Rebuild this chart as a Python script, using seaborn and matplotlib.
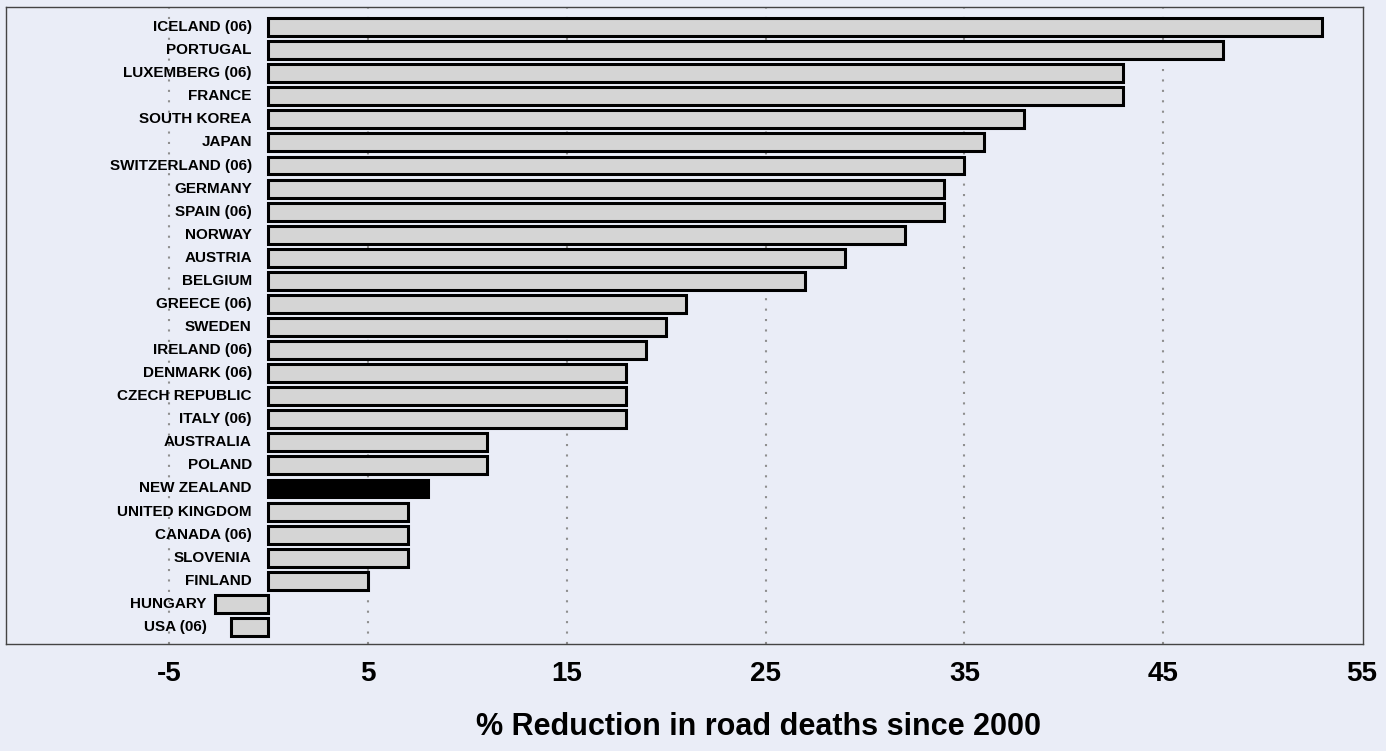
import numpy as np
import pandas as pd
import seaborn as sns
import matplotlib.pyplot as plt

# values
countries = ["ICELAND (06)", "PORTUGAL", "LUXEMBERG (06)", "FRANCE", "SOUTH KOREA",
             "JAPAN", "SWITZERLAND (06)", "GERMANY", "SPAIN (06)", "NORWAY",
             "AUSTRIA", "BELGIUM", "GREECE (06)", "SWEDEN", "IRELAND (06)",
             "DENMARK (06)", "CZECH REPUBLIC", "ITALY (06)", "AUSTRALIA", "POLAND",
             "NEW ZEALAND", "UNITED KINGDOM", "CANADA (06)", "SLOVENIA", "FINLAND",
             "HUNGARY", "USA (06)"]
reduction = [53, 48, 43, 43, 38, 36, 35, 34, 34, 32, 29, 27, 21, 20, 19,
             18, 18, 18, 11, 11, 8, 7, 7, 7, 5, -2.7, -1.9]
highlight = "NEW ZEALAND"
xticks = [-5, 5, 15, 25, 35, 45, 55]

bg = "#eaedf7"
sns.set_theme(style="white", rc={"axes.facecolor": bg, "figure.facecolor": bg,
                                 "text.color": "black"})
font = ["Liberation Sans", "DejaVu Sans"]
plt.rcParams["font.family"] = font

df = pd.DataFrame({"country": countries, "reduction": reduction})
colors = ["black" if c == highlight else "#d5d5d5" for c in countries]

fig = plt.figure(figsize=(13.86, 7.51), dpi=100)
ax = fig.add_axes([6 / 1386, 1 - 644 / 751, 1357 / 1386, 637 / 751])

sns.barplot(data=df, x="reduction", y="country", hue="country", palette=colors,
            legend=False, orient="h", width=0.78, edgecolor="black",
            linewidth=2.2, saturation=1, ax=ax)

ax.set_xlim(-13.2, 55.05)
ax.set_ylim(len(countries) - 0.26, -0.87)
ax.set_xticks(xticks[:-1])
ax.set_xticklabels([])
for t in xticks:
    ax.annotate(str(t), xy=(t, 0), xycoords=("data", "axes fraction"),
                xytext=(0, -12), textcoords="offset points", ha="center", va="top",
                fontsize=20, fontweight="bold", color="black")
ax.tick_params(length=0)
ax.set_yticks([])
ax.set_ylabel("")
ax.set_xlabel("")
ax.grid(axis="x", linestyle=(0, (1, 4)), color="#8f8f8f", linewidth=1.5)
ax.set_axisbelow(True)
for s in ax.spines.values():
    s.set_color("#444444")
    s.set_linewidth(1)

# country labels sit just left of each bar's start
low = min(reduction)
for i, (c, v) in enumerate(zip(countries, reduction)):
    x0, off = (0, -12) if v >= 0 else (low, -6)
    ax.annotate(c, xy=(x0, i), xytext=(off, 0), textcoords="offset points",
                ha="right", va="center", fontsize=11, fontweight="bold", color="black")

fig.text(758 / 1386, 1 - 727 / 751, "% Reduction in road deaths since 2000",
         ha="center", va="center", fontsize=22, fontweight="bold", color="black")

fig.savefig("out.png", dpi=100)
